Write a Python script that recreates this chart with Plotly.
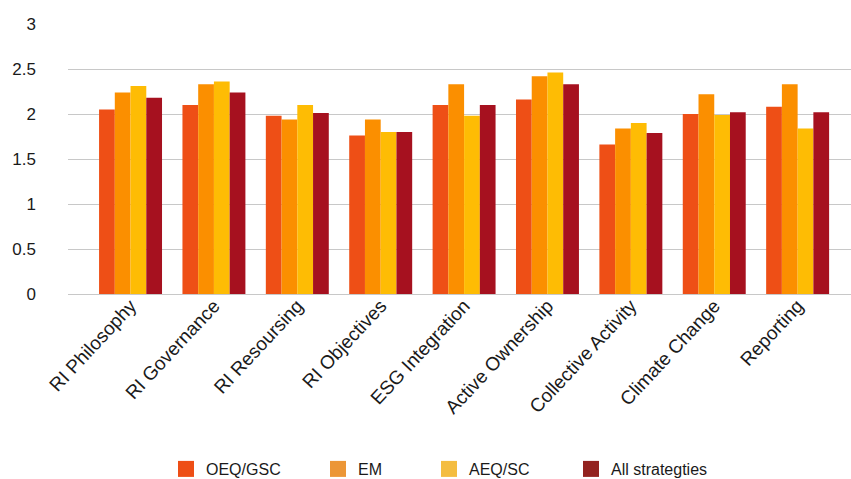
import plotly.graph_objects as go

# Survey scores by RI category and strategy group
categories = [
    "RI Philosophy", "RI Governance", "RI Resoursing", "RI Objectives",
    "ESG Integration", "Active Ownership", "Collective Activity",
    "Climate Change", "Reporting",
]
oeq_gsc = [2.05, 2.10, 1.98, 1.76, 2.10, 2.16, 1.66, 2.00, 2.08]
em = [2.24, 2.33, 1.94, 1.94, 2.33, 2.42, 1.84, 2.22, 2.33]
aeq_sc = [2.31, 2.36, 2.10, 1.80, 1.98, 2.46, 1.90, 1.99, 1.84]
all_strategies = [2.18, 2.24, 2.01, 1.80, 2.10, 2.33, 1.79, 2.02, 2.02]

series_names = ["OEQ/GSC", "EM", "AEQ/SC", "All strategties"]
series_values = [oeq_gsc, em, aeq_sc, all_strategies]
bar_colors = ["#EE4F16", "#FB8F00", "#FEBC04", "#A6111F"]
legend_colors = ["#EE4E15", "#EC9636", "#F4BD40", "#93221F"]

y_ticks = [0, 0.5, 1, 1.5, 2, 2.5, 3]
y_tick_labels = ["0", "0.5", "1", "1.5", "2", "2.5", "3"]

FONT = "Liberation Sans, Arial, Helvetica, sans-serif"
W, H = 851, 479

fig = go.Figure()
for name, vals, col in zip(series_names, series_values, bar_colors):
    fig.add_trace(go.Bar(
        x=categories, y=vals, name=name,
        marker=dict(color=col, line=dict(width=0)),
        showlegend=False,
    ))

# one legend box per series so each entry can sit at its own spot
legend_ids = ["legend", "legend2", "legend3", "legend4"]
legend_swatch_x = [186, 338, 449, 591]
for name, col, lid in zip(series_names, legend_colors, legend_ids):
    fig.add_trace(go.Scatter(
        x=[None], y=[None], name=name, mode="markers",
        marker=dict(symbol="square", size=17, color=col),
        showlegend=True, legend=lid,
    ))

legend_layout = {}
for lid, sx in zip(legend_ids, legend_swatch_x):
    legend_layout[lid] = dict(
        orientation="h",
        xref="container", x=(sx - 20) / W, xanchor="left",
        yref="container", y=1 - 469 / H, yanchor="middle",
        font=dict(family=FONT, size=16, color="#1a1a1a"),
        itemsizing="trace", borderwidth=0,
        bgcolor="rgba(0,0,0,0)",
    )

fig.update_layout(
    width=W, height=H,
    margin=dict(l=68, r=0, t=24, b=185, autoexpand=False),
    paper_bgcolor="white", plot_bgcolor="white",
    barmode="group", bargap=0.245, bargroupgap=0,
    font=dict(family=FONT, size=15, color="#1a1a1a"),
    xaxis=dict(
        type="category",
        range=[-0.75, 8.64],
        tickangle=-47,
        tickfont=dict(family=FONT, size=19, color="#1a1a1a"),
        showgrid=False, showline=False, ticks="",
        ticklabelstandoff=-4,
        automargin=False,
    ),
    yaxis=dict(
        range=[0, 3],
        tickvals=y_ticks, ticktext=y_tick_labels,
        tickfont=dict(family=FONT, size=17, color="#1a1a1a"),
        showgrid=True, gridcolor="#C8C8C8", gridwidth=1.3,
        zeroline=True, zerolinecolor="#C8C8C8", zerolinewidth=1.3,
        showline=False, ticks="",
        ticklabelstandoff=31,
        automargin=False,
    ),
    **legend_layout,
)

fig.write_html("out.html")
